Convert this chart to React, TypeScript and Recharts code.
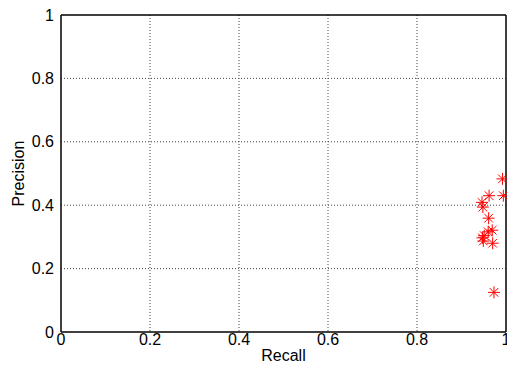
import React from 'react';
import {
  ScatterChart,
  Scatter,
  XAxis,
  YAxis,
  CartesianGrid,
  ReferenceLine,
} from 'recharts';

const recall = [0.992, 0.994, 0.962, 0.946, 0.948, 0.961, 0.969, 0.96, 0.951, 0.947, 0.949, 0.97, 0.973];
const precision = [0.483, 0.43, 0.43, 0.409, 0.394, 0.359, 0.321, 0.316, 0.304, 0.297, 0.287, 0.28, 0.125];
const xTicks = [0, 0.2, 0.4, 0.6, 0.8, 1];
const yTicks = [0, 0.2, 0.4, 0.6, 0.8, 1];
const gridValues = [0.2, 0.4, 0.6, 0.8];

const points = recall.map((r, i) => ({ recall: r, precision: precision[i] }));

const font = '"Liberation Sans", Arial, Helvetica, sans-serif';

// matlab style '*' marker
const Star = (props: any) => {
  const { cx, cy } = props;
  const r = 6;
  const d = 4.3;
  return (
    <g stroke="#ff0000" strokeWidth={1}>
      <line x1={cx - r} y1={cy} x2={cx + r} y2={cy} />
      <line x1={cx} y1={cy - r} x2={cx} y2={cy + r} />
      <line x1={cx - d} y1={cy - d} x2={cx + d} y2={cy + d} />
      <line x1={cx - d} y1={cy + d} x2={cx + d} y2={cy - d} />
    </g>
  );
};

const YLabel = (props: any) => {
  const { viewBox } = props;
  const cy = viewBox.y + viewBox.height / 2;
  return (
    <text
      x={24}
      y={cy}
      transform={`rotate(-90 24 ${cy})`}
      textAnchor="middle"
      fontSize={16}
      fontFamily={font}
      fill="#000"
    >
      Precision
    </text>
  );
};

export default function App() {
  return (
    <div style={{ position: 'absolute', left: 0, top: 0, width: 507, height: 369, background: '#fff' }}>
      <ScatterChart width={507} height={369} margin={{ top: 15, right: 1, bottom: 0, left: 0 }}>
        <CartesianGrid
          stroke="#444"
          strokeDasharray="1 2"
          horizontalValues={gridValues}
          verticalValues={gridValues}
        />
        <XAxis
          type="number"
          dataKey="recall"
          domain={[0, 1]}
          ticks={xTicks}
          height={37}
          axisLine={{ stroke: '#000', strokeWidth: 1.5 }}
          tickLine={false}
          tickSize={2}
          tickMargin={0}
          tick={{ fill: '#000', fontSize: 16, fontFamily: font }}
          interval={0}
          label={{ value: 'Recall', position: 'insideBottom', offset: 8, fill: '#000', fontSize: 16, fontFamily: font }}
        />
        <YAxis
          type="number"
          dataKey="precision"
          domain={[0, 1]}
          ticks={yTicks}
          width={61}
          axisLine={{ stroke: '#000', strokeWidth: 1.5 }}
          tickLine={false}
          tickSize={5}
          tickMargin={2}
          tick={{ fill: '#000', fontSize: 16, fontFamily: font }}
          interval={0}
          label={<YLabel />}
        />
        <ReferenceLine y={1} stroke="#000" strokeWidth={1.5} />
        <ReferenceLine x={1} stroke="#000" strokeWidth={1.5} />
        <Scatter data={points} shape={<Star />} isAnimationActive={false} />
      </ScatterChart>
    </div>
  );
}
